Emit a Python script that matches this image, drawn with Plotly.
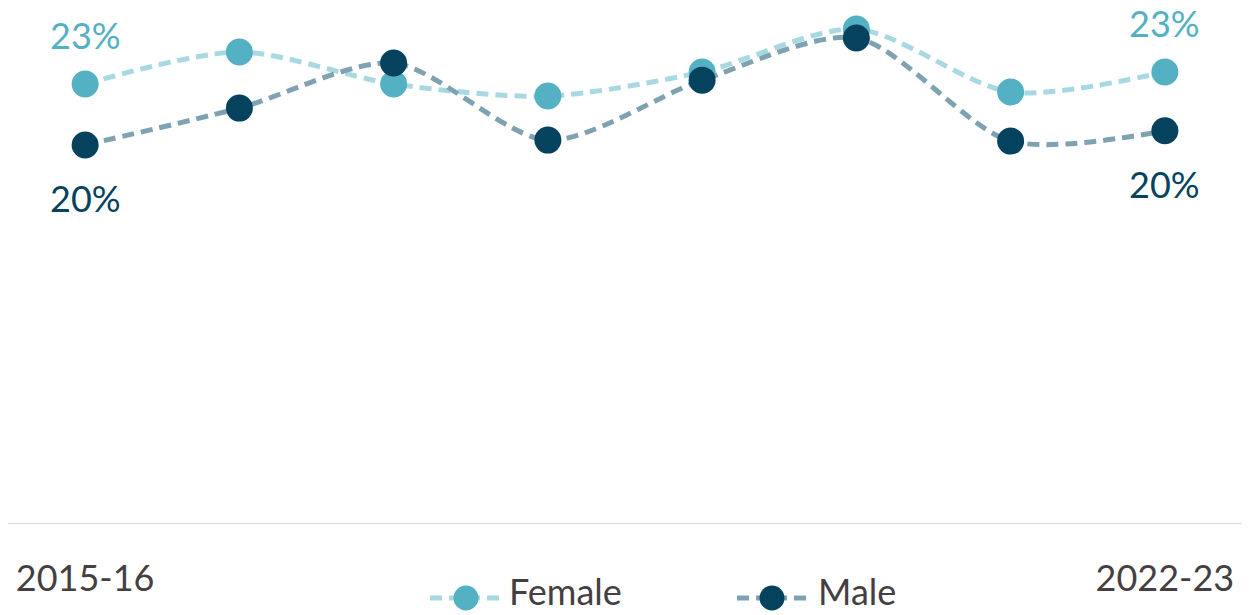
import plotly.graph_objects as go

# Share of respondents by year
years = ["2015-16", "2016-17", "2017-18", "2018-19", "2019-20", "2020-21", "2021-22", "2022-23"]
female = [22.67, 24.32, 22.67, 22.05, 23.29, 25.50, 22.26, 23.29]
male = [19.53, 21.43, 23.75, 19.78, 22.87, 25.04, 19.73, 20.26]
series_names = ["Female", "Male"]

FONT = "Lato"
TEXT_GREY = "#453f41"
F_MARK, F_LINE = "#54b0c3", "#a8d9e2"
M_MARK, M_LINE = "#04425e", "#7fa2b2"

W, H = 1256, 615
ML, MR, MT, MB = 8, 14, 0, 91
PW, PH = W - ML - MR, H - MT - MB


def px_x(px):
    # pixel column -> paper x
    return (px - ML) / PW


def px_y(py):
    # pixel row -> paper y
    return (H - MB - py) / PH


fig = go.Figure()
x_idx = list(range(len(years)))

for vals, name, mcol, lcol in [
    (female, series_names[0], F_MARK, F_LINE),
    (male, series_names[1], M_MARK, M_LINE),
]:
    fig.add_trace(go.Scatter(
        x=x_idx, y=vals, name=name, mode="lines+markers",
        line=dict(color=lcol, width=5, dash="12px,7px", shape="spline", smoothing=0.8),
        marker=dict(color=mcol, size=27, line=dict(width=0)),
        cliponaxis=False, showlegend=False,
    ))

# End-point value labels
annotations = []
for i in (0, len(years) - 1):
    annotations.append(dict(
        x=i, y=female[i], xref="x", yref="y", text=f"{round(female[i])}%",
        showarrow=False, yshift=49, font=dict(family=FONT, size=36, color=F_MARK),
    ))
    annotations.append(dict(
        x=i, y=male[i], xref="x", yref="y", text=f"{round(male[i])}%",
        showarrow=False, yshift=-53, font=dict(family=FONT, size=36, color=M_MARK),
    ))

# Custom legend row at the bottom
shapes = []
legend_items = [
    (series_names[0], F_MARK, F_LINE, 430, 502, 466, 508),
    (series_names[1], M_MARK, M_LINE, 737, 808, 772, 817),
]
ly = px_y(598)
for name, mcol, lcol, x0, x1, xm, xt in legend_items:
    shapes.append(dict(
        type="line", xref="paper", yref="paper",
        x0=px_x(x0), x1=px_x(x1), y0=ly, y1=ly,
        line=dict(color=lcol, width=5, dash="12px,7px"), layer="above",
    ))
    shapes.append(dict(
        type="circle", xref="paper", yref="paper",
        xsizemode="pixel", ysizemode="pixel",
        xanchor=px_x(xm), yanchor=ly, x0=-12.5, x1=12.5, y0=-12.5, y1=12.5,
        fillcolor=mcol, line=dict(width=0), layer="above",
    ))
    annotations.append(dict(
        x=px_x(xt), y=px_y(614), xref="paper", yref="paper",
        xanchor="left", yanchor="bottom", borderpad=0,
        text=name, showarrow=False,
        font=dict(family=FONT, size=36, color=TEXT_GREY),
    ))

fig.update_layout(
    width=W, height=H,
    margin=dict(l=ML, r=MR, t=MT, b=MB),
    paper_bgcolor="white", plot_bgcolor="white",
    font=dict(family=FONT, size=36, color=TEXT_GREY),
    xaxis=dict(
        range=[-0.5, len(years) - 0.5],
        tickvals=[0, len(years) - 1], ticktext=[years[0], years[-1]],
        showgrid=False, zeroline=False, showline=False, ticks="",
        ticklabelstandoff=30,
        tickfont=dict(family=FONT, size=36, color=TEXT_GREY),
    ),
    yaxis=dict(range=[0, 27], visible=False, showgrid=False, zeroline=False),
    shapes=shapes + [dict(
        type="line", xref="paper", yref="y", x0=0, x1=1, y0=0, y1=0,
        line=dict(color="#d9d9d9", width=2), layer="below",
    )],
    annotations=annotations,
    showlegend=False,
)

fig.write_html("out.html")
